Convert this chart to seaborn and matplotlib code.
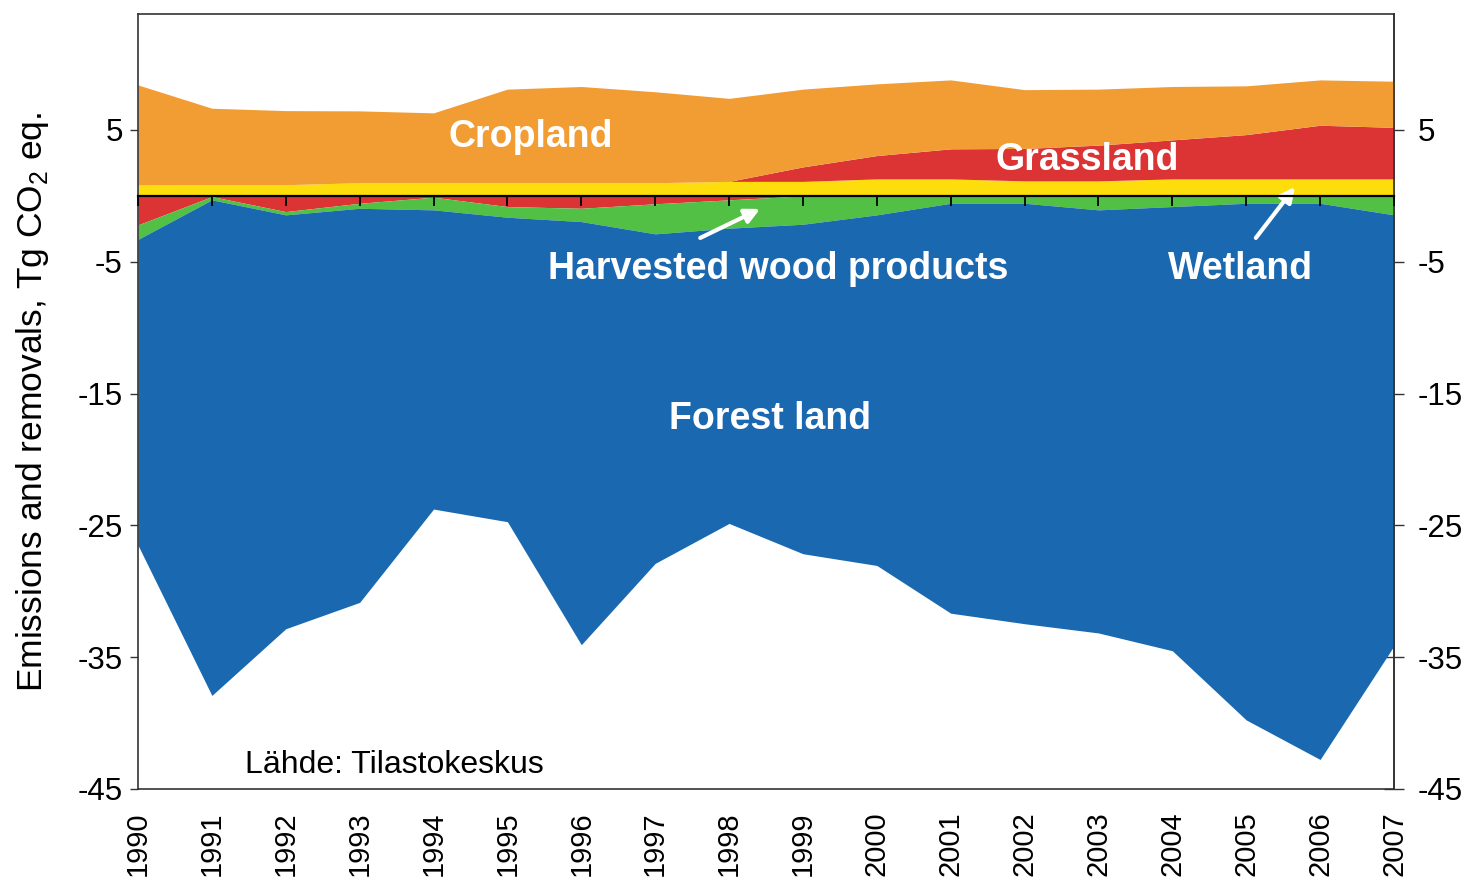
import numpy as np
import seaborn as sns
import matplotlib.pyplot as plt

# values, Tg CO2 eq.
years = list(range(1990, 2008))
forest_land = [-23.2, -37.6, -31.4, -29.9, -22.7, -23.1, -32.1, -25.0, -22.4,
               -25.0, -26.6, -31.1, -31.9, -32.1, -33.7, -39.2, -42.2, -32.7]
harvested_wood = [-1.1, -0.25, -0.25, -0.38, -0.96, -0.81, -1.01, -2.28, -2.15,
                  -2.15, -1.44, -0.56, -0.56, -1.06, -0.81, -0.56, -0.56, -1.44]
grassland = [-2.2, -0.05, -1.19, -0.56, -0.1, -0.81, -0.94, -0.6, -0.3,
             1.1, 1.77, 2.28, 2.46, 2.71, 2.96, 3.36, 4.07, 3.91]
wetland = [0.83, 0.85, 0.85, 1.0, 1.0, 1.0, 1.0, 1.0, 1.1,
           1.1, 1.29, 1.29, 1.14, 1.14, 1.29, 1.29, 1.29, 1.29]
cropland = [7.59, 5.8, 5.62, 5.45, 5.3, 7.1, 7.3, 6.9, 6.3,
            5.9, 5.44, 5.23, 4.46, 4.25, 4.05, 3.7, 3.44, 3.5]
y_ticks = [5, -5, -15, -25, -35, -45]

colors = {'forest': '#1968B0', 'hwp': '#52BF45', 'grass': '#DC3434',
          'wet': '#FDDD0C', 'crop': '#F29C34'}

sns.set_style('white', {'xtick.bottom': True, 'ytick.left': True,
                        'text.color': 'black', 'axes.labelcolor': 'black',
                        'xtick.color': 'black', 'ytick.color': 'black'})
plt.rcParams['font.family'] = ['Liberation Sans', 'DejaVu Sans']
plt.rcParams['mathtext.fontset'] = 'custom'
plt.rcParams['mathtext.rm'] = 'Liberation Sans'

fig = plt.figure(figsize=(14.66, 8.81), dpi=100)
ax = fig.add_axes([138 / 1466, 1 - 789 / 881, (1394 - 138) / 1466, (789 - 14) / 881])

grass = np.array(grassland)
# positive side: wetland, grassland emissions, cropland
ax.stackplot(years, wetland, np.maximum(grass, 0), cropland,
             colors=[colors['wet'], colors['grass'], colors['crop']], lw=0)
# negative side: grassland removals, harvested wood products, forest land
ax.stackplot(years, np.minimum(grass, 0), harvested_wood, forest_land,
             colors=[colors['grass'], colors['hwp'], colors['forest']], lw=0)

ymin, ymax = -45, 13.8
ax.set_xlim(1990, 2007)
ax.set_ylim(ymin, ymax)

# bottom: year labels, no tick marks
ax.set_xticks(years)
ax.set_xticklabels([str(y) for y in years], rotation=90, fontsize=21)
ax.tick_params(axis='x', length=0, pad=16, labelcolor='black')

# left ticks outward
ax.set_yticks(y_ticks)
ax.set_yticklabels([str(v) for v in y_ticks], fontsize=22.5)
ax.tick_params(axis='y', direction='out', length=6, width=1, color='#333333',
               pad=5, left=True, labelcolor='black')

# right axis with crossing ticks
sec_y = ax.secondary_yaxis('right')
sec_y.set_yticks(y_ticks)
sec_y.set_yticklabels([str(v) for v in y_ticks], fontsize=22.5)
sec_y.tick_params(direction='inout', length=14, width=1, color='#333333',
                  pad=10, right=True, labelcolor='black')
sec_y.spines['right'].set_color('#333333')
sec_y.spines['right'].set_linewidth(1.2)

# zero line with year tick marks pointing down
zero_frac = (0 - ymin) / (ymax - ymin)
sec_x = ax.secondary_xaxis(zero_frac)
sec_x.set_alignment('bottom')
sec_x.set_xticks(years)
sec_x.set_xticklabels([])
sec_x.tick_params(direction='out', length=7, width=1.3, color='black',
                  bottom=True, top=False)
sec_x.spines['bottom'].set_visible(True)
sec_x.spines['bottom'].set_color('black')
sec_x.spines['bottom'].set_linewidth(1.6)
sec_x.set_zorder(5)

for side in ['left', 'right', 'top', 'bottom']:
    ax.spines[side].set_visible(True)
    ax.spines[side].set_color('#333333')
    ax.spines[side].set_linewidth(1.2)

ax.set_ylabel('Emissions and removals, Tg CO$_\\mathregular{2}$ eq.', fontsize=25.5,
              labelpad=19, color='black')

label_kw = dict(color='white', fontweight='bold', fontsize=27, ha='center', va='center')
ax.text(1995.31, 4.5, 'Cropland', **label_kw)
ax.text(2002.85, 2.75, 'Grassland', **label_kw)
ax.text(1998.66, -5.55, 'Harvested wood products', **label_kw)
ax.text(2004.92, -5.55, 'Wetland', **label_kw)
ax.text(1998.55, -16.95, 'Forest land', **label_kw)
ax.text(1991.45, -43.2, 'Lähde: Tilastokeskus', fontsize=23, color='black', ha='left', va='center')

arrow_kw = dict(arrowstyle='-|>', color='white', lw=3, mutation_scale=22, shrinkA=0, shrinkB=0)
ax.annotate('', xy=(1998.42, -0.99), xytext=(1997.61, -3.19), arrowprops=arrow_kw)
ax.annotate('', xy=(2005.66, 0.68), xytext=(2005.13, -3.19), arrowprops=arrow_kw)

fig.savefig('out.png', dpi=100)
